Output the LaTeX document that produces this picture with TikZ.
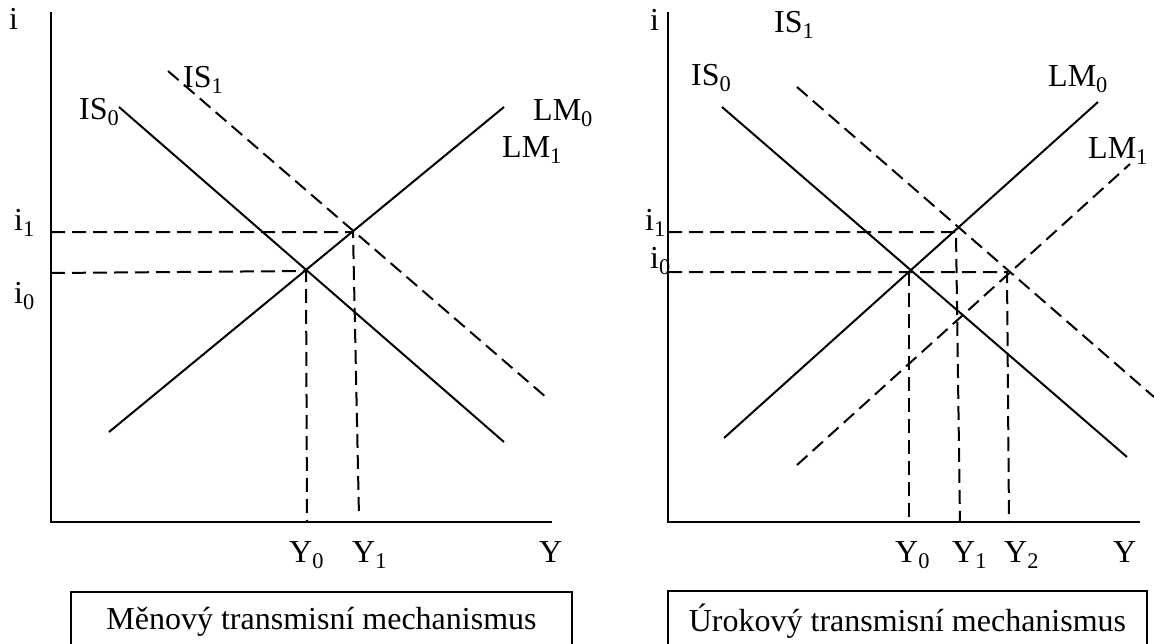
\documentclass[tikz,border=0pt]{standalone}
\usepackage{fontspec}
\setmainfont{Liberation Serif}
\usepackage{tikz}
\usetikzlibrary{positioning}

\begin{document}
\begin{tikzpicture}[
    x=1pt, y=-1pt,
    font=\fontsize{32}{38}\selectfont,
    axis/.style={line width=2.4pt},
    curve/.style={line width=2pt},
    shifted/.style={curve, dash pattern=on 14pt off 7pt},
    guide/.style={line width=2pt, dash pattern=on 14pt off 7pt},
    lbl/.style={inner sep=0pt, anchor=base west},
    caption/.style={draw, line width=2pt, minimum height=60pt, inner sep=0pt}
]
\useasboundingbox (0,0) rectangle (1154,643);

% Left: monetary channel
\coordinate (m-top) at (51,12);
\coordinate (m-o) at (51,522);
\coordinate (m-end) at (552,522);
\coordinate (m-is0a) at (119,107);
\coordinate (m-is0b) at (504,442);
\coordinate (m-is1a) at (168,71);
\coordinate (m-is1b) at (547,398);
\coordinate (m-lma) at (109,432);
\coordinate (m-lmb) at (504,107);
\coordinate (m-e0) at (306,271);
\coordinate (m-e1) at (353,232);
\coordinate (m-i0) at (51,273);
\coordinate (m-i1) at (51,232);
\coordinate (m-y0) at (307,522);
\coordinate (m-y1) at (359,517);

\draw[axis] (m-top) -- (m-o) -- (m-end);
\draw[curve] (m-is0a) -- (m-is0b);
\draw[shifted] (m-is1a) -- (m-is1b);
\draw[curve] (m-lma) -- (m-lmb);
\draw[guide] (m-i1) -- (m-e1) -- (m-y1);
\draw[guide] (m-i0) -- (m-e0) -- (m-y0);

\node[lbl] (m-li) at (9,29) {i};
\node[lbl] (m-lis0) at (79,119) {IS\textsubscript{0}};
\node[lbl] (m-lis1) at (183,87) {IS\textsubscript{1}};
\node[lbl] (m-llm0) at (533,120) {LM\textsubscript{0}};
\node[lbl] (m-llm1) at (502,157) {LM\textsubscript{1}};
\node[lbl] (m-li1) at (14,230) {i\textsubscript{1}};
\node[lbl] (m-li0) at (14,303) {i\textsubscript{0}};
\node[lbl] (m-ly0) at (289,562) {Y\textsubscript{0}};
\node[lbl] (m-ly1) at (352,562) {Y\textsubscript{1}};
\node[lbl] (m-ly) at (539,562) {Y};

\node[caption, minimum width=501pt] (m-cap) at (321.5,622) {Měnový transmisní mechanismus};

% Right: interest rate channel
\coordinate (u-top) at (668,12);
\coordinate (u-o) at (668,522);
\coordinate (u-end) at (1140,522);
\coordinate (u-is0a) at (722,107);
\coordinate (u-is0b) at (1127,457);
\coordinate (u-is1a) at (797,87);
\coordinate (u-is1b) at (1154,397);
\coordinate (u-lm0a) at (724,438);
\coordinate (u-lm0b) at (1098,102);
\coordinate (u-lm1a) at (797,465);
\coordinate (u-lm1b) at (1130,164);
\coordinate (u-e0) at (909,272);
\coordinate (u-e1) at (956,232);
\coordinate (u-e2) at (1007,272);
\coordinate (u-i0) at (668,272);
\coordinate (u-i1) at (668,232);
\coordinate (u-y0) at (909,522);
\coordinate (u-y1) at (960,522);
\coordinate (u-y2) at (1009,522);

\draw[axis] (u-top) -- (u-o) -- (u-end);
\draw[curve] (u-is0a) -- (u-is0b);
\draw[shifted] (u-is1a) -- (u-is1b);
\draw[curve] (u-lm0a) -- (u-lm0b);
\draw[shifted] (u-lm1a) -- (u-lm1b);
\draw[guide] (u-i1) -- (u-e1) -- (u-y1);
\draw[guide] (u-i0) -- (u-e2) -- (u-y2);
\draw[guide] (u-e0) -- (u-y0);

\node[lbl] (u-li) at (650,30) {i};
\node[lbl] (u-lis1) at (774,32) {IS\textsubscript{1}};
\node[lbl] (u-lis0) at (691,85) {IS\textsubscript{0}};
\node[lbl] (u-llm0) at (1048,86) {LM\textsubscript{0}};
\node[lbl] (u-llm1) at (1088,158) {LM\textsubscript{1}};
\node[lbl] (u-li1) at (645,230) {i\textsubscript{1}};
\node[lbl] (u-li0) at (650,268) {i\textsubscript{0}};
\node[lbl] (u-ly0) at (895,562) {Y\textsubscript{0}};
\node[lbl] (u-ly1) at (952,562) {Y\textsubscript{1}};
\node[lbl] (u-ly2) at (1004,562) {Y\textsubscript{2}};
\node[lbl] (u-ly) at (1113,562) {Y};

\node[caption, minimum width=479pt, minimum height=61pt] (u-cap) at (907.5,621.5) {Úrokový transmisní mechanismus};

\end{tikzpicture}
\end{document}
